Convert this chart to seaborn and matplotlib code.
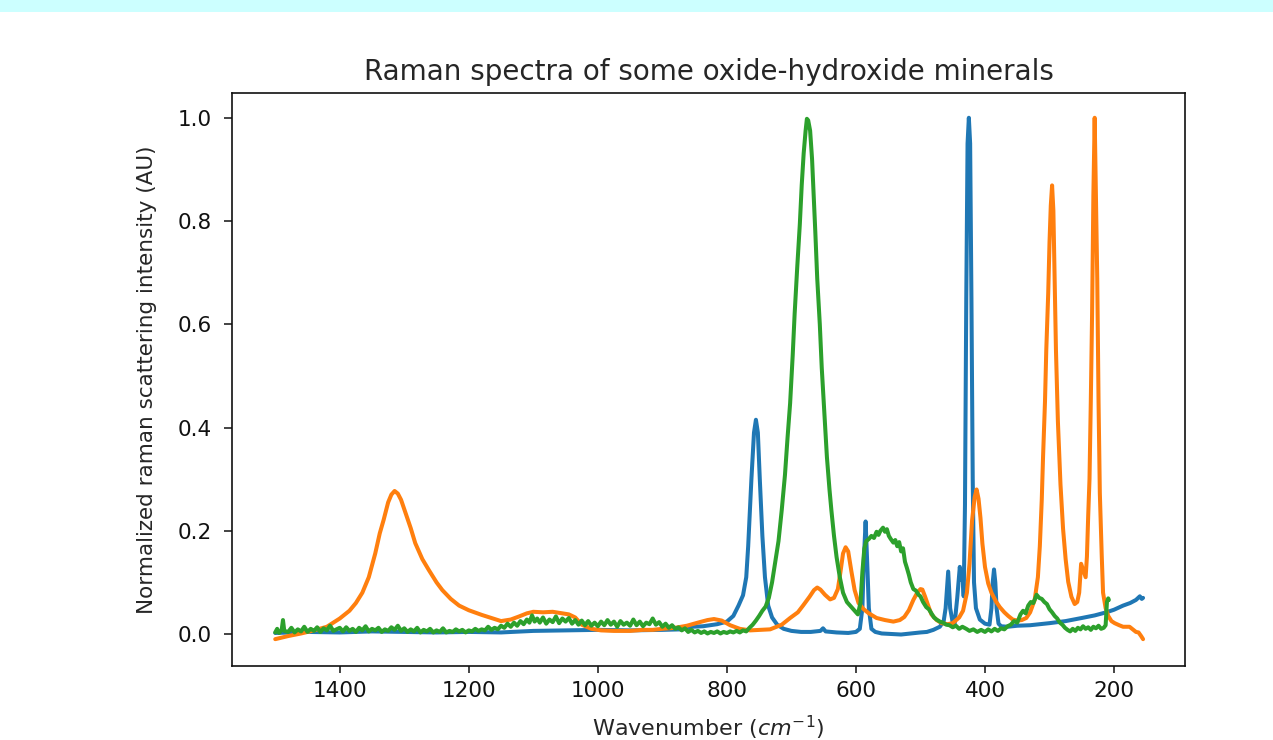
import pandas as pd
import matplotlib.pyplot as plt
import seaborn as sns
from matplotlib.patches import Rectangle

# spectrum 1 (blue)
wn_1 = [1500, 1450, 1400, 1350, 1300, 1250, 1200, 1150, 1100, 1050, 1000, 950, 900, 870,
        854, 837, 815, 800, 790, 782, 775, 770, 767, 762, 758, 755, 752, 749, 745, 741,
        736, 730, 722, 712, 700, 685, 670, 655, 651, 647, 630, 612, 600, 594, 590, 588,
        585, 582, 580, 576, 570, 560, 545, 530, 515, 500, 490, 480, 470, 464, 461, 457,
        454, 450, 447, 443, 439, 437, 435, 433, 431, 429, 427, 425, 423, 421, 419, 417,
        414, 408, 400, 393, 390, 388, 386, 384, 382, 379, 375, 365, 350, 330, 300, 275,
        250, 230, 212, 200, 186, 175, 166, 160, 157, 155]
int_1 = [0.002, 0.004, 0.003, 0.005, 0.004, 0.003, 0.004, 0.003, 0.006, 0.007, 0.008, 0.007, 0.008, 0.009,
         0.014, 0.015, 0.019, 0.024, 0.035, 0.055, 0.075, 0.110, 0.170, 0.300, 0.390, 0.415, 0.390, 0.300, 0.190, 0.110,
         0.055, 0.032, 0.018, 0.010, 0.006, 0.004, 0.004, 0.006, 0.011, 0.005, 0.003, 0.002, 0.004, 0.010, 0.050, 0.136,
         0.218, 0.120, 0.050, 0.010, 0.004, 0.001, 0.000, -0.001, 0.001, 0.003, 0.004, 0.008, 0.014, 0.025, 0.050, 0.121,
         0.050, 0.022, 0.020, 0.070, 0.130, 0.105, 0.124, 0.073, 0.250, 0.650, 0.950, 1.000, 0.950, 0.650, 0.300, 0.100,
         0.050, 0.028, 0.020, 0.018, 0.050, 0.100, 0.125, 0.100, 0.050, 0.020, 0.015, 0.014, 0.016, 0.017, 0.021, 0.025,
         0.031, 0.036, 0.042, 0.047, 0.055, 0.060, 0.066, 0.073, 0.068, 0.070]

# spectrum 2 (orange)
wn_2 = [1500, 1480, 1460, 1440, 1420, 1400, 1385, 1375, 1365, 1355, 1345, 1338, 1332, 1325, 1320,
        1315, 1310, 1305, 1298, 1290, 1283, 1272, 1262, 1250, 1241, 1228, 1215, 1200, 1180, 1165,
        1150, 1135, 1122, 1110, 1100, 1085, 1070, 1055, 1045, 1035, 1025, 1010, 995, 975, 950,
        930, 915, 900, 880, 862, 845, 830, 820, 808, 795, 780, 764, 750, 733, 715, 702, 690,
        682, 672, 665, 660, 655, 648, 640, 634, 628, 624, 620, 616, 612, 607, 602, 596, 588,
        580, 568, 555, 542, 532, 525, 518, 511, 505, 500, 497, 493, 488, 483, 475, 467, 458,
        450, 440, 434, 428, 424, 420, 416, 413, 410, 407, 404, 400, 395, 390, 383, 377, 370,
        364, 357, 350, 343, 336, 330, 323, 318, 315, 312, 310, 307, 305, 302, 300, 298, 296,
        294, 292, 290, 287, 283, 279, 275, 271, 266, 261, 257, 254, 251, 249, 247, 244, 242,
        240, 238, 236, 234, 232, 230, 228, 226, 224, 222, 219, 217, 213, 209, 204, 199, 192,
        186, 176, 170, 166, 162, 158, 155]
int_2 = [-0.010, -0.004, 0.001, 0.007, 0.014, 0.030, 0.045, 0.060, 0.080, 0.110, 0.156, 0.195, 0.221, 0.255, 0.270,
         0.277, 0.272, 0.260, 0.234, 0.205, 0.176, 0.145, 0.124, 0.100, 0.085, 0.068, 0.055, 0.046, 0.037, 0.031,
         0.025, 0.028, 0.034, 0.040, 0.043, 0.042, 0.043, 0.040, 0.038, 0.032, 0.018, 0.010, 0.007, 0.006, 0.006,
         0.008, 0.008, 0.010, 0.012, 0.016, 0.022, 0.027, 0.029, 0.026, 0.017, 0.010, 0.007, 0.008, 0.009, 0.018, 0.031, 0.042,
         0.055, 0.072, 0.085, 0.090, 0.086, 0.076, 0.067, 0.070, 0.087, 0.120, 0.156, 0.168, 0.160, 0.121, 0.085, 0.060, 0.048,
         0.040, 0.031, 0.027, 0.024, 0.027, 0.033, 0.046, 0.066, 0.080, 0.087, 0.086, 0.073, 0.055, 0.038, 0.027, 0.021, 0.019,
         0.021, 0.032, 0.045, 0.080, 0.136, 0.220, 0.265, 0.280, 0.262, 0.225, 0.175, 0.130, 0.098, 0.080, 0.063, 0.052, 0.042,
         0.035, 0.028, 0.026, 0.027, 0.031, 0.042, 0.066, 0.110, 0.170, 0.260, 0.343, 0.450, 0.550, 0.660, 0.758, 0.830, 0.869,
         0.820, 0.689, 0.550, 0.412, 0.290, 0.204, 0.145, 0.101, 0.072, 0.058, 0.062, 0.080, 0.136, 0.128, 0.121, 0.110, 0.150,
         0.230, 0.300, 0.450, 0.620, 0.850, 1.000, 0.850, 0.689, 0.450, 0.273, 0.150, 0.080, 0.050, 0.035, 0.025, 0.021, 0.017,
         0.014, 0.014, 0.008, 0.004, 0.003, -0.004, -0.010]

# spectrum 3 (green, noisy)
wn_3 = [1500, 1497, 1494, 1490, 1488, 1486, 1480, 1475, 1470, 1465, 1460, 1455, 1450, 1445, 1440,
        1435, 1430, 1425, 1420, 1415, 1410, 1405, 1400, 1395, 1390, 1385, 1380, 1375, 1370, 1365,
        1360, 1355, 1350, 1345, 1340, 1335, 1330, 1325, 1320, 1315, 1310, 1305, 1300, 1295, 1290,
        1285, 1280, 1275, 1270, 1265, 1260, 1255, 1250, 1245, 1240, 1235, 1230, 1225, 1220, 1215,
        1210, 1205, 1200, 1195, 1190, 1185, 1180, 1175, 1170, 1165, 1160, 1155, 1150, 1145, 1140,
        1135, 1130, 1125, 1120, 1115, 1110, 1106, 1102, 1098, 1094, 1090, 1085, 1080, 1075, 1070,
        1065, 1060, 1055, 1050, 1045, 1040, 1035, 1030, 1025, 1020, 1015, 1010, 1005, 1000, 995,
        990, 985, 980, 975, 970, 965, 960, 955, 950, 945, 940, 935, 930, 925, 920,
        915, 910, 905, 900, 895, 890, 885, 880, 875, 870, 865, 860, 855, 850, 845,
        840, 835, 830, 825, 820, 815, 810, 805, 800, 795, 790, 785, 780, 775, 770,
        765, 760, 755, 750, 745, 740, 735, 730, 725, 720, 715, 710, 706, 702, 698,
        695, 691, 687, 684, 681, 678, 676, 674, 671, 668, 666, 663, 660, 656, 653,
        649, 645, 641, 638, 634, 630, 625, 620, 614, 607, 602, 597, 593, 590, 587,
        584, 580, 576, 572, 568, 565, 562, 558, 555, 552, 549, 546, 542, 539, 536,
        533, 530, 527, 524, 521, 518, 515, 511, 507, 503, 500, 496, 491, 487, 483,
        479, 475, 470, 465, 460, 455, 450, 445, 440, 435, 429, 424, 418, 412, 406,
        400, 395, 390, 385, 380, 375, 370, 365, 360, 355, 350, 345, 341, 337, 333,
        329, 325, 320, 316, 312, 308, 304, 300, 296, 292, 288, 284, 280, 276, 272,
        268, 264, 260, 256, 252, 248, 244, 240, 236, 232, 228, 224, 220, 216, 213,
        211, 209, 208]
int_3 = [0.003, 0.010, 0.002, 0.008, 0.027, 0.006, 0.004, 0.012, 0.003, 0.009, 0.005, 0.014, 0.004, 0.010, 0.006,
         0.013, 0.004, 0.011, 0.007, 0.016, 0.006, 0.009, 0.012, 0.005, 0.013, 0.006, 0.010, 0.004, 0.012, 0.007,
         0.015, 0.005, 0.010, 0.007, 0.012, 0.004, 0.009, 0.006, 0.013, 0.008, 0.016, 0.006, 0.011, 0.004, 0.009,
         0.005, 0.012, 0.003, 0.008, 0.005, 0.010, 0.003, 0.007, 0.004, 0.011, 0.003, 0.006, 0.004, 0.009, 0.005,
         0.008, 0.003, 0.007, 0.005, 0.010, 0.006, 0.009, 0.007, 0.014, 0.008, 0.012, 0.009, 0.016, 0.012, 0.020,
         0.014, 0.022, 0.016, 0.025, 0.019, 0.028, 0.022, 0.036, 0.024, 0.030, 0.022, 0.032, 0.020, 0.028, 0.023,
         0.034, 0.021, 0.030, 0.024, 0.031, 0.020, 0.027, 0.018, 0.026, 0.017, 0.025, 0.016, 0.022, 0.015, 0.024,
         0.017, 0.027, 0.018, 0.024, 0.014, 0.025, 0.018, 0.022, 0.016, 0.028, 0.017, 0.024, 0.015, 0.022, 0.019,
         0.030, 0.018, 0.023, 0.014, 0.020, 0.012, 0.017, 0.010, 0.013, 0.007, 0.011, 0.004, 0.008, 0.003, 0.006,
         0.002, 0.005, 0.001, 0.004, 0.002, 0.005, 0.001, 0.004, 0.002, 0.005, 0.003, 0.006, 0.003, 0.007, 0.005,
         0.012, 0.018, 0.026, 0.035, 0.045, 0.053, 0.070, 0.100, 0.140, 0.180, 0.240, 0.308, 0.380, 0.447, 0.540,
         0.620, 0.710, 0.793, 0.870, 0.931, 0.975, 0.998, 0.995, 0.975, 0.920, 0.862, 0.780, 0.689, 0.600, 0.516,
         0.430, 0.343, 0.280, 0.239, 0.190, 0.149, 0.110, 0.080, 0.062, 0.052, 0.045, 0.038, 0.060, 0.120, 0.165,
         0.180, 0.184, 0.190, 0.186, 0.198, 0.192, 0.200, 0.206, 0.198, 0.203, 0.190, 0.184, 0.177, 0.182, 0.170,
         0.178, 0.160, 0.166, 0.140, 0.128, 0.115, 0.100, 0.087, 0.084, 0.076, 0.073, 0.062, 0.052, 0.048, 0.040,
         0.032, 0.028, 0.024, 0.022, 0.018, 0.017, 0.013, 0.016, 0.010, 0.014, 0.010, 0.006, 0.009, 0.004, 0.008,
         0.004, 0.009, 0.005, 0.010, 0.006, 0.011, 0.009, 0.015, 0.018, 0.025, 0.022, 0.038, 0.045, 0.040, 0.055,
         0.062, 0.060, 0.076, 0.070, 0.068, 0.062, 0.058, 0.048, 0.042, 0.035, 0.030, 0.022, 0.018, 0.012, 0.008,
         0.005, 0.010, 0.006, 0.012, 0.009, 0.015, 0.010, 0.013, 0.008, 0.014, 0.011, 0.016, 0.010, 0.012, 0.017,
         0.062, 0.069, 0.066]

series_names = ['spectrum 1', 'spectrum 2', 'spectrum 3']
series_colors = ['#1f77b4', '#ff7f0e', '#2ca02c']

frames = []
for name, wn, inten in zip(series_names, [wn_1, wn_2, wn_3], [int_1, int_2, int_3]):
    frames.append(pd.DataFrame({'wavenumber': wn, 'intensity': inten, 'mineral': name}))
spectra = pd.concat(frames, ignore_index=True)

sns.set_theme(style='ticks')
plt.rcParams['font.family'] = ['DejaVu Sans']

fig = plt.figure(figsize=(12.73, 7.40), dpi=100)
fig.add_artist(Rectangle((0, 1 - 12 / 740), 1, 12 / 740, transform=fig.transFigure,
                         facecolor='#ccffff', edgecolor='none'))
ax = fig.add_axes([232 / 1273, 1 - 666 / 740, 953 / 1273, 573 / 740])

sns.lineplot(data=spectra, x='wavenumber', y='intensity', hue='mineral',
             hue_order=series_names, palette=series_colors, estimator=None,
             linewidth=2.9, legend=False, ax=ax)

ax.set_xlim(1567, 90)
ax.set_ylim(-0.062, 1.048)
ax.set_xticks([1400, 1200, 1000, 800, 600, 400, 200])
ax.set_yticks([0.0, 0.2, 0.4, 0.6, 0.8, 1.0])
ax.set_yticklabels(['0.0', '0.2', '0.4', '0.6', '0.8', '1.0'])
ax.set_title('Raman spectra of some oxide-hydroxide minerals', fontsize=20, pad=9)
ax.set_xlabel('Wavenumber ($cm^{-1}$)', fontsize=16, labelpad=9)
ax.set_ylabel('Normalized raman scattering intensity (AU)', fontsize=15.5, labelpad=15)
ax.tick_params(axis='x', labelsize=15.5, length=5, width=1.1, pad=6, colors='#111111')
ax.tick_params(axis='y', labelsize=15.5, length=5.5, width=1.1, pad=9, colors='#111111')
for spine in ax.spines.values():
    spine.set_linewidth(1.2)
    spine.set_color('#111111')

fig.savefig('out.png', dpi=100)
